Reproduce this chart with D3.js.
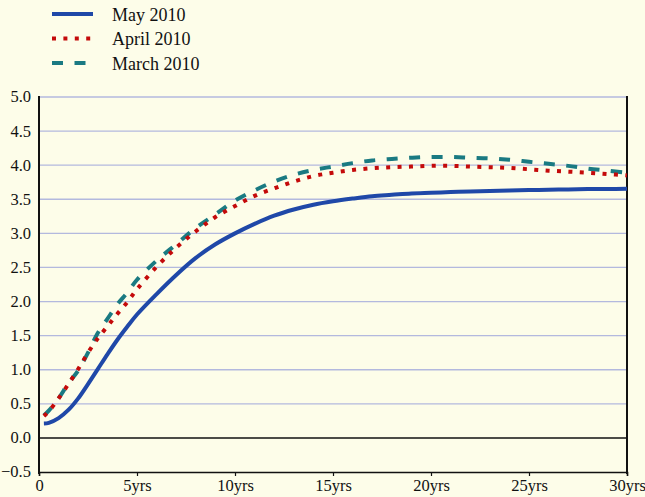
<!DOCTYPE html>
<html><head><meta charset="utf-8">
<script src="https://cdn.jsdelivr.net/npm/d3@7"></script>
<style>
html,body{margin:0;padding:0;background:#fdfde9;}
svg{display:block;}
text{font-family:"Liberation Serif","Times New Roman",serif;fill:#111;}
</style></head>
<body><svg id="c" width="645" height="497"></svg>
<script>
const years = [0.25,0.5,1,1.5,2,2.5,3,3.5,4,4.5,5,6,7,8,9,10,11,12,13,14,15,16,17,18,19,20,21,22,23,24,25,26,27,28,29,30];
const may2010 = [0.21,0.22,0.29,0.41,0.58,0.79,1.01,1.23,1.44,1.63,1.81,2.11,2.39,2.64,2.84,3.00,3.14,3.26,3.35,3.42,3.47,3.51,3.545,3.565,3.585,3.595,3.605,3.615,3.62,3.63,3.635,3.64,3.645,3.65,3.65,3.655];
const april2010 = [0.32,0.39,0.58,0.79,1.01,1.25,1.46,1.64,1.82,1.99,2.18,2.51,2.79,3.03,3.24,3.40,3.55,3.66,3.76,3.84,3.89,3.93,3.955,3.97,3.98,3.99,3.99,3.98,3.97,3.96,3.94,3.92,3.905,3.89,3.87,3.85];
const march2010 = [0.33,0.40,0.58,0.80,0.99,1.25,1.54,1.75,1.96,2.13,2.32,2.60,2.84,3.08,3.28,3.48,3.63,3.76,3.86,3.93,3.98,4.03,4.07,4.09,4.11,4.12,4.12,4.11,4.10,4.08,4.05,4.02,3.99,3.95,3.92,3.89];
const xTicks = [0,5,10,15,20,25,30];
const xTickLabels = ["0","5yrs","10yrs","15yrs","20yrs","25yrs","30yrs"];
const yTicks = [-0.5,0,0.5,1,1.5,2,2.5,3,3.5,4,4.5,5];
const seriesNames = ["May 2010","April 2010","March 2010"];

const svg = d3.select("#c");
const L=39, R=627, T=97, B=472;
const x = d3.scaleLinear().domain([0,30]).range([L,R]);
const y = d3.scaleLinear().domain([-0.5,5]).range([B,T]);

svg.append("g").selectAll("line").data(yTicks.filter(v=>v!==0 && v!==-0.5)).join("line")
  .attr("x1",L).attr("x2",R).attr("y1",d=>y(d)).attr("y2",d=>y(d))
  .attr("stroke","#b3b9de").attr("stroke-width",1.3);

svg.append("line").attr("x1",L).attr("x2",R).attr("y1",y(0)).attr("y2",y(0))
  .attr("stroke","#111").attr("stroke-width",1.5);

const yAxis = d3.axisLeft(y).tickValues(yTicks).tickFormat(d3.format(".1f")).tickSize(0).tickPadding(8);
const gy = svg.append("g").attr("transform",`translate(${L},0)`).call(yAxis);
gy.select(".domain").remove();
gy.selectAll("text").attr("font-size","16.5px").attr("font-family","Liberation Serif").attr("fill","#111").attr("dy","0.3em");

const xAxis = d3.axisBottom(x).tickValues(xTicks).tickFormat((d,i)=>xTickLabels[i]).tickSize(4).tickPadding(3);
const gx = svg.append("g").attr("transform",`translate(0,${B})`).call(xAxis);
gx.select(".domain").attr("stroke","#111").attr("stroke-width",1.5);
gx.selectAll(".tick line").attr("stroke","#111").attr("stroke-width",1.2);
gx.selectAll("text").attr("font-size","16.5px").attr("font-family","Liberation Serif").attr("fill","#111");

svg.append("line").attr("x1",L).attr("x2",L).attr("y1",T-1).attr("y2",B+2).attr("stroke","#111").attr("stroke-width",2);
svg.append("line").attr("x1",R).attr("x2",R).attr("y1",T-1).attr("y2",B+2).attr("stroke","#111").attr("stroke-width",2);

const line = d3.line().x((d,i)=>x(years[i])).y(d=>y(d)).curve(d3.curveCatmullRom.alpha(0.5));
const styles = [
  {data:may2010, color:"#1f48a8", dash:null, w:4},
  {data:april2010, color:"#c40a0a", dash:"4,7.4", w:4},
  {data:march2010, color:"#1a7a82", dash:"11,11.5", w:4}
];
[2,1,0].forEach(k=>{
  const s=styles[k];
  svg.append("path").attr("d",line(s.data)).attr("fill","none")
    .attr("stroke",s.color).attr("stroke-width",s.w)
    .attr("stroke-dasharray",s.dash);
});

const lg = svg.append("g");
seriesNames.forEach((n,i)=>{
  const s=styles[i];
  const cy = 14 + i*24.5;
  lg.append("line").attr("x1",52).attr("x2",93).attr("y1",cy).attr("y2",cy)
    .attr("stroke",s.color).attr("stroke-width",4).attr("stroke-dasharray",s.dash);
  lg.append("text").attr("x",112).attr("y",cy+6.5).attr("font-size","18px").text(n);
});
</script></body></html>
